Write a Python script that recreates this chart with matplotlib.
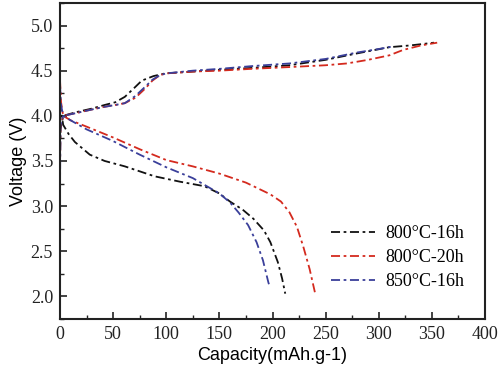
import numpy as np
import matplotlib.pyplot as plt
from matplotlib.ticker import MultipleLocator

labels = ['800°C-16h', '800°C-20h', '850°C-16h']
colors = ['#111111', '#d42a1e', '#3a3f9a']

# charge curves (capacity mAh/g, voltage V)
charge_cap = [
    [0, 0.5, 3, 15, 30, 42, 52, 61, 70, 77, 88, 99, 125, 150, 180, 216, 250, 279, 310, 330, 352],
    [0, 0.5, 3, 15, 30, 42, 52, 61, 71, 80, 87, 94, 100, 125, 150, 180, 216, 250, 270, 290, 310, 323, 340, 355],
    [0, 0.5, 3, 15, 30, 42, 52, 61, 71, 80, 87, 94, 100, 125, 150, 180, 216, 250, 279, 300, 314],
]
charge_v = [
    [3.6, 3.85, 4.0, 4.04, 4.08, 4.12, 4.15, 4.21, 4.31, 4.39, 4.44, 4.47, 4.49, 4.51, 4.53, 4.56, 4.62, 4.69, 4.76, 4.78, 4.81],
    [3.4, 3.9, 4.0, 4.03, 4.07, 4.1, 4.12, 4.14, 4.2, 4.3, 4.39, 4.45, 4.47, 4.49, 4.5, 4.52, 4.54, 4.56, 4.58, 4.62, 4.67, 4.73, 4.78, 4.81],
    [3.2, 3.9, 4.0, 4.03, 4.07, 4.1, 4.12, 4.14, 4.22, 4.32, 4.4, 4.45, 4.47, 4.5, 4.52, 4.55, 4.58, 4.63, 4.7, 4.74, 4.77],
]

# discharge curves
dis_cap = [
    [0, 1, 3, 8, 14, 28, 42, 61, 89, 113, 136, 150, 160, 172, 182, 192, 198, 205, 209, 212],
    [0, 1, 3, 10, 25, 50, 75, 100, 125, 150, 175, 198, 208, 216, 223, 229, 235, 240],
    [0, 1, 3, 10, 25, 50, 75, 100, 125, 150, 160, 168, 177, 185, 191, 196, 197],
]
dis_v = [
    [4.15, 4.05, 3.9, 3.8, 3.71, 3.57, 3.5, 3.44, 3.33, 3.27, 3.22, 3.14, 3.05, 2.96, 2.86, 2.73, 2.6, 2.38, 2.2, 2.03],
    [4.4, 4.15, 4.0, 3.95, 3.88, 3.76, 3.63, 3.51, 3.44, 3.36, 3.26, 3.13, 3.05, 2.93, 2.77, 2.55, 2.3, 2.04],
    [4.35, 4.12, 4.0, 3.95, 3.85, 3.72, 3.57, 3.43, 3.31, 3.14, 3.04, 2.93, 2.79, 2.6, 2.4, 2.16, 2.12],
]

plt.rcParams['font.family'] = ['Liberation Serif', 'DejaVu Serif']

fig = plt.figure(figsize=(5, 3.7), dpi=100)
ax = fig.add_axes([0.12, 0.138, 0.85, 0.854])

dash = (0, (5, 2, 1.5, 2))
for i in range(3):
    ax.plot(charge_cap[i], charge_v[i], color=colors[i], lw=1.3, linestyle=dash)
    ax.plot(dis_cap[i], dis_v[i], color=colors[i], lw=1.3, linestyle=dash, label=labels[i])

ax.set_xlim(0, 400)
ax.set_ylim(1.75, 5.25)
ax.xaxis.set_major_locator(MultipleLocator(50))
ax.xaxis.set_minor_locator(MultipleLocator(25))
ax.yaxis.set_major_locator(MultipleLocator(0.5))
ax.yaxis.set_minor_locator(MultipleLocator(0.25))
ax.tick_params(which='both', direction='in', top=False, right=False, labelsize=13, colors='#222222')
ax.tick_params(which='major', length=5, width=1.2, pad=5)
ax.tick_params(which='minor', length=3, width=1)
for s in ax.spines.values():
    s.set_linewidth(1.5)
    s.set_color('#222222')

ax.set_xlabel('Capacity(mAh.g-1)', family='Liberation Sans', fontsize=13, labelpad=3)
ax.set_ylabel('Voltage (V)', family='Liberation Sans', fontsize=13, labelpad=3)

ax.legend(loc='lower right', bbox_to_anchor=(0.99, 0.04), frameon=False, fontsize=13,
          handlelength=2.4, labelspacing=0.38, handletextpad=0.6)

fig.savefig('out.png', dpi=100)
